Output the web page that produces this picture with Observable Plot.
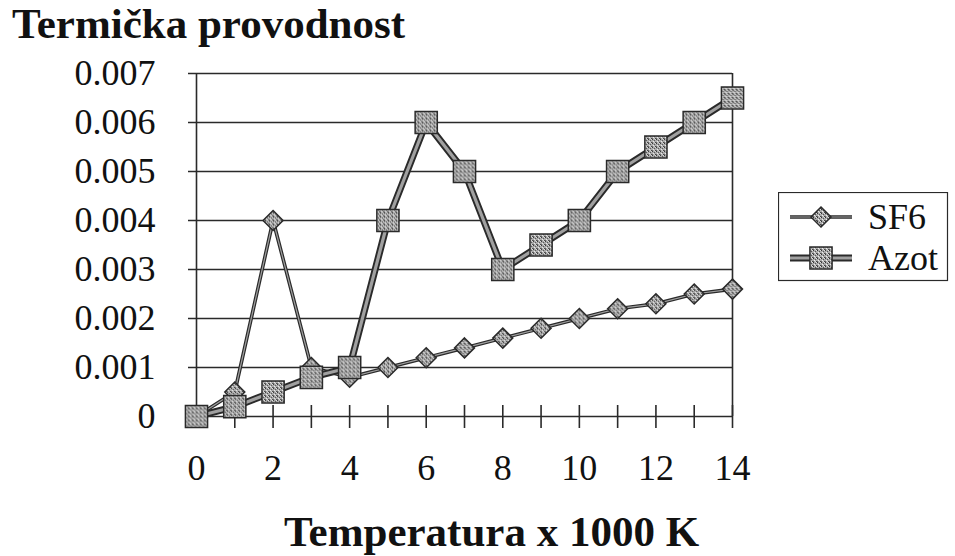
<!DOCTYPE html>
<html><head><meta charset="utf-8">
<script src="https://cdn.jsdelivr.net/npm/d3@7"></script>
<script src="https://cdn.jsdelivr.net/npm/@observablehq/plot@0.6"></script>
<style>
body{margin:0;background:#fff;}
#wrap{position:relative;width:955px;height:556px;overflow:hidden;font-family:"Liberation Serif","Tinos","DejaVu Serif","Noto Serif","Times New Roman",Times,serif;color:#111;}
#title{position:absolute;left:12px;top:2px;font-size:43px;font-weight:bold;line-height:43px;white-space:nowrap;}
#chart{position:absolute;left:0;top:50px;}
#legend{position:absolute;left:778px;top:192px;}
</style></head><body>
<div id="wrap"><div id="title">Termička provodnost</div><div id="chart"></div><div id="legend"></div></div>
<script>
// ---- data ----
const temps = [0, 1, 2, 3, 4, 5, 6, 7, 8, 9, 10, 11, 12, 13, 14];
const sf6  = [0, 0.0005, 0.004, 0.001, 0.0008, 0.001, 0.0012, 0.0014, 0.0016, 0.0018, 0.002, 0.0022, 0.0023, 0.0025, 0.0026];
const azot = [0, 0.0002, 0.0005, 0.0008, 0.001, 0.004, 0.006, 0.005, 0.003, 0.0035, 0.004, 0.005, 0.0055, 0.006, 0.0065];
const seriesNames = ["SF6", "Azot"];
const yTicks = [0, 0.001, 0.002, 0.003, 0.004, 0.005, 0.006, 0.007];
const xLabelTicks = [0, 2, 4, 6, 8, 10, 12, 14];
const xTitle = "Temperatura x 1000 K";

const FONT = '"Liberation Serif", Tinos, "DejaVu Serif", "Noto Serif", "Times New Roman", Times, serif';
const data = temps.map((t, i) => ({t, sf6: sf6[i], azot: azot[i]}));
const dark = "#2a2a2a";

const plot = Plot.plot({
  width: 955, height: 506,
  marginTop: 23, marginBottom: 140, marginLeft: 196, marginRight: 223,
  x: {domain: [0, 14]},
  y: {domain: [0, 0.007]},
  style: {fontFamily: FONT, fontSize: "36px", color: "#111", background: "white", overflow: "visible"},
  marks: [
    Plot.ruleY(yTicks, {y: d => d, x1: 0, x2: 14, insetLeft: -8, stroke: dark, strokeWidth: 1.3}),
    Plot.ruleX([0, 14], {x: d => d, y1: 0, y2: 0.007, stroke: dark, strokeWidth: 1.6}),
    Plot.ruleX(temps, {x: d => d, y1: 0, y2: 0, insetTop: -11, insetBottom: -12, stroke: dark, strokeWidth: 1.6}),
    Plot.axisY({ticks: yTicks, tickSize: 0, tickPadding: 41, label: null, tickFormat: d => d === 0 ? "0" : d.toFixed(3)}),
    Plot.axisX({ticks: xLabelTicks, tickSize: 0, tickPadding: 38, label: null, tickFormat: d => String(d)}),
    Plot.text([xTitle], {text: d => d, frameAnchor: "bottom", dx: 27, dy: 116, lineAnchor: "middle", fontSize: 43, fontWeight: "bold", fill: "#111"}),
    // SF6
    Plot.line(data, {x: "t", y: "sf6", stroke: dark, strokeWidth: 3.6}),
    Plot.line(data, {x: "t", y: "sf6", stroke: "#a0a0a0", strokeWidth: 1.2}),
    Plot.dot(data, {x: "t", y: "sf6", symbol: "diamond2", r: 9, fill: "url(#stip)", stroke: dark, strokeWidth: 1.5}),
    // Azot
    Plot.line(data, {x: "t", y: "azot", stroke: dark, strokeWidth: 7}),
    Plot.line(data, {x: "t", y: "azot", stroke: "#a0a0a0", strokeWidth: 3.2}),
    Plot.dot(data, {x: "t", y: "azot", symbol: "square", r: 12.5, fill: "url(#stip)", stroke: dark, strokeWidth: 1.5})
  ]
});

const NS = "http://www.w3.org/2000/svg";
function addPattern(svg, id) {
  const defs = document.createElementNS(NS, "defs");
  const pat = document.createElementNS(NS, "pattern");
  pat.setAttribute("id", id);
  pat.setAttribute("patternUnits", "userSpaceOnUse");
  pat.setAttribute("width", "4"); pat.setAttribute("height", "4");
  const cells = [[0,0,4,4,"#aaaaaa"],[0,0,1,1,"#333333"],[2,1,1,1,"#555555"],[1,2,1,1,"#eeeeee"],[3,3,1,1,"#444444"],[3,0,1,1,"#e0e0e0"],[0,3,1,1,"#666666"],[2,3,1,1,"#d8d8d8"]];
  for (const [x,y,w,h,f] of cells) {
    const r = document.createElementNS(NS, "rect");
    r.setAttribute("x", x); r.setAttribute("y", y); r.setAttribute("width", w); r.setAttribute("height", h); r.setAttribute("fill", f);
    pat.appendChild(r);
  }
  defs.appendChild(pat);
  svg.insertBefore(defs, svg.firstChild);
}
addPattern(plot, "stip");
document.getElementById("chart").appendChild(plot);

// legend
const lg = d3.select("#legend").append("svg").attr("width", 172).attr("height", 92)
  .style("font-family", FONT).style("font-size", "36px");
addPattern(lg.node(), "stip2");
lg.append("rect").attr("x", 0.5).attr("y", 0.5).attr("width", 169).attr("height", 88).attr("fill", "white").attr("stroke", dark).attr("stroke-width", 1.2);
const rows = [25, 66];
// SF6 row
lg.append("line").attr("x1", 12).attr("x2", 74).attr("y1", rows[0]).attr("y2", rows[0]).attr("stroke", dark).attr("stroke-width", 3.6);
lg.append("line").attr("x1", 12).attr("x2", 74).attr("y1", rows[0]).attr("y2", rows[0]).attr("stroke", "#a0a0a0").attr("stroke-width", 1.2);
lg.append("path").attr("d", d3.symbol(d3.symbolDiamond2, Math.PI * 81)()).attr("transform", `translate(43,${rows[0]})`).attr("fill", "url(#stip2)").attr("stroke", dark).attr("stroke-width", 1.5);
// Azot row
lg.append("line").attr("x1", 12).attr("x2", 74).attr("y1", rows[1]).attr("y2", rows[1]).attr("stroke", dark).attr("stroke-width", 7);
lg.append("line").attr("x1", 12).attr("x2", 74).attr("y1", rows[1]).attr("y2", rows[1]).attr("stroke", "#a0a0a0").attr("stroke-width", 3.2);
lg.append("path").attr("d", d3.symbol(d3.symbolSquare, Math.PI * 12.5 * 12.5)()).attr("transform", `translate(43,${rows[1]})`).attr("fill", "url(#stip2)").attr("stroke", dark).attr("stroke-width", 1.5);
lg.selectAll("text.lbl").data(seriesNames).join("text").attr("class", "lbl")
  .attr("x", 90).attr("y", (d, i) => rows[i]).attr("dy", "0.34em").attr("fill", "#111").text(d => d);
</script>
</body></html>
